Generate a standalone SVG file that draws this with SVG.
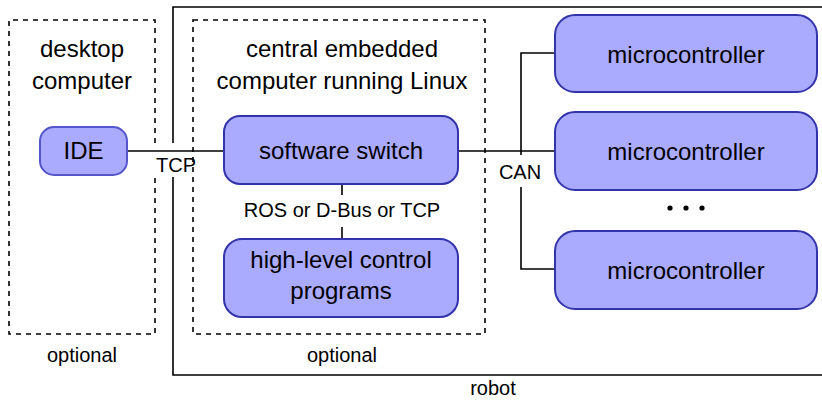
<svg xmlns="http://www.w3.org/2000/svg" width="822" height="400" viewBox="0 0 822 400">
<style>
text{font-family:"Liberation Sans",Arial,sans-serif;fill:#000;text-anchor:middle}
.big{font-size:24px}
.small{font-size:20px}
.node{fill:#aaaaff;stroke:#3333aa;stroke-width:2}
.dash{fill:none;stroke:#000;stroke-width:1.6;stroke-dasharray:5,5}
.line{fill:none;stroke:#000;stroke-width:1.6}
</style>
<rect width="822" height="400" fill="#fff"/>
<g id="containers">
<path class="line" d="M173,143 V7 H822 M173,177 V375 H822"/>
<path class="dash" d="M155,143 V20 H9 V334 H155 V177"/>
<rect class="dash" x="193" y="20" width="292" height="314"/>
<text class="big" x="82" y="57">desktop</text>
<text class="big" x="82" y="89">computer</text>
<text class="big" x="342" y="57">central embedded</text>
<text class="big" x="342" y="89">computer running Linux</text>
<text class="small" x="82" y="362">optional</text>
<text class="small" x="342" y="362">optional</text>
<text class="small" x="493" y="395">robot</text>
</g>
<g id="connectors">
<path class="line" d="M127,151 H224"/>
<path class="line" d="M458,151 H555"/>
<path class="line" d="M555,53 H521 V155 M521,187 V269 H555"/>
<path class="line" d="M342,184 V195 M342,227 V239"/>
<text class="small" x="176" y="172">TCP</text>
<text class="small" x="520" y="179">CAN</text>
<text class="small" x="342" y="217">ROS or D-Bus or TCP</text>
</g>
<g id="ide">
<rect class="node" x="40" y="127" width="87" height="48" rx="14" style="stroke:#5555cc"/>
<text class="big" x="83.5" y="159">IDE</text>
</g>
<g id="switch">
<rect class="node" x="224" y="116" width="234" height="68" rx="16"/>
<text class="big" x="341" y="159">software switch</text>
</g>
<g id="highlevel">
<rect class="node" x="224" y="239" width="234" height="78" rx="18"/>
<text class="big" x="341" y="268">high-level control</text>
<text class="big" x="341" y="299">programs</text>
</g>
<g id="mc1">
<rect class="node" x="555" y="15" width="262" height="77" rx="20"/>
<text class="big" x="686" y="63">microcontroller</text>
</g>
<g id="mc2">
<rect class="node" x="555" y="112" width="262" height="78" rx="20"/>
<text class="big" x="686" y="160">microcontroller</text>
</g>
<g id="mc3">
<rect class="node" x="555" y="231" width="262" height="78" rx="20"/>
<text class="big" x="686" y="279">microcontroller</text>
</g>
<g id="dots">
<circle cx="670" cy="208" r="2.6"/>
<circle cx="686" cy="208" r="2.6"/>
<circle cx="702" cy="208" r="2.6"/>
</g>
</svg>
